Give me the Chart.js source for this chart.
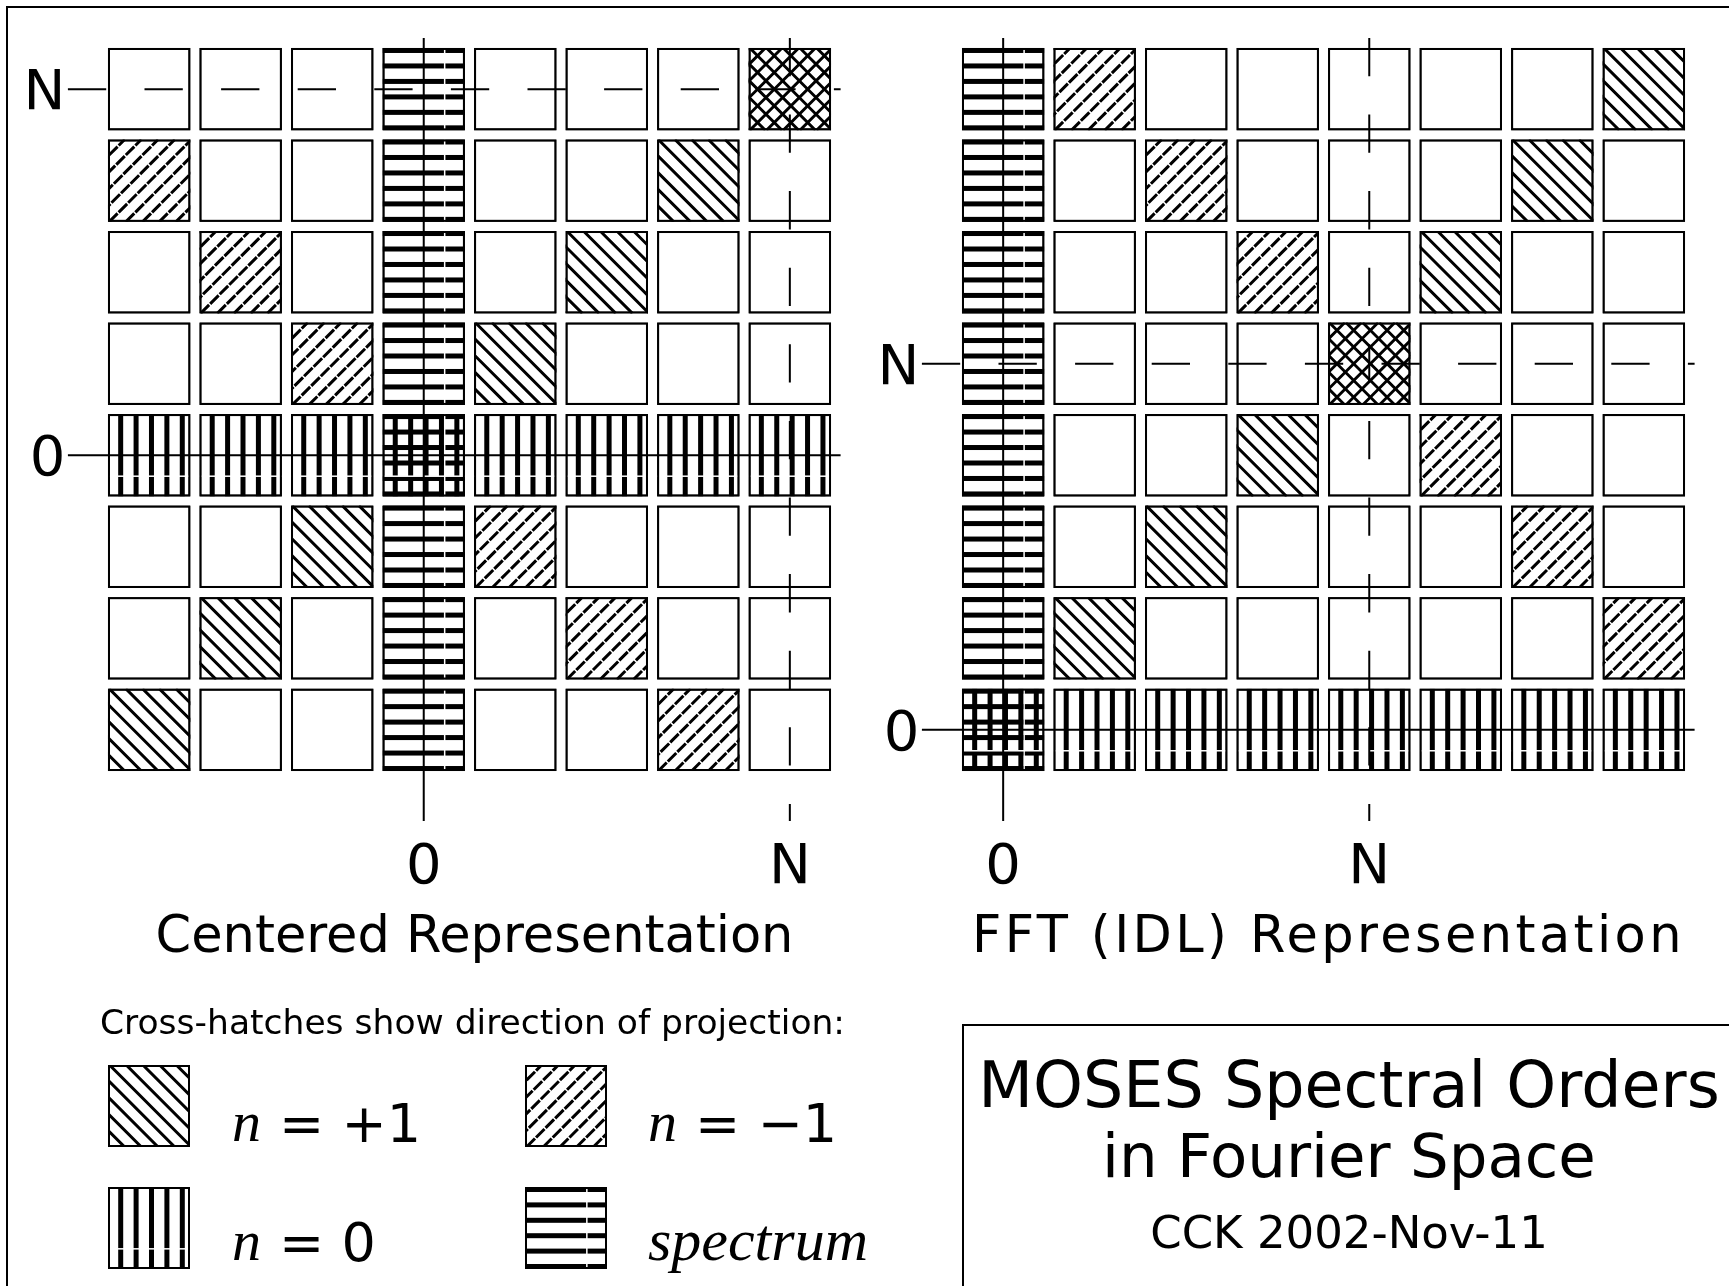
<!DOCTYPE html>
<html>
<head>
<meta charset="utf-8">
<script src="https://cdn.jsdelivr.net/npm/chart.js@4.4.1/dist/chart.umd.min.js"></script>
<style>
  body { margin: 0; background: #fff; overflow: hidden; }
  #wrap { position: relative; width: 1729px; height: 1286px; }
  canvas { position: absolute; left: 0; top: 0; }
</style>
</head>
<body>
<div id="wrap">
  <canvas id="centered" width="1729" height="1286"></canvas>
  <canvas id="fft" width="1729" height="1286"></canvas>
</div>
<script>
// cell codes: '' empty, '+' n=+1, '-' n=-1, '0' n=0, 'S' spectrum,
// 'G' spectrum and n=0, 'X' n=+1 and n=-1 together
const centeredCols = ["-3", "-2", "-1", "0", "1", "2", "3", "N"]
const centeredRows = ["N", "3", "2", "1", "0", "-1", "-2", "-3"] // top to bottom
const centeredCells = [
  ["", "", "", "S", "", "", "", "X"],
  ["-", "", "", "S", "", "", "+", ""],
  ["", "-", "", "S", "", "+", "", ""],
  ["", "", "-", "S", "+", "", "", ""],
  ["0", "0", "0", "G", "0", "0", "0", "0"],
  ["", "", "+", "S", "-", "", "", ""],
  ["", "+", "", "S", "", "-", "", ""],
  ["+", "", "", "S", "", "", "-", ""],
]

const fftCols = ["0", "1", "2", "3", "N", "5", "6", "7"]
const fftRows = ["7", "6", "5", "N", "3", "2", "1", "0"] // top to bottom
const fftCells = [
  ["S", "-", "", "", "", "", "", "+"],
  ["S", "", "-", "", "", "", "+", ""],
  ["S", "", "", "-", "", "+", "", ""],
  ["S", "", "", "", "X", "", "", ""],
  ["S", "", "", "+", "", "-", "", ""],
  ["S", "", "+", "", "", "", "-", ""],
  ["S", "+", "", "", "", "", "", "-"],
  ["G", "0", "0", "0", "0", "0", "0", "0"],
]

const legendCodes = ["+", "-", "0", "S"]
const legendValues = ["+1", "\u22121", "0", "spectrum"]
const titleLines = ["MOSES Spectral Orders", "in Fourier Space", "CCK 2002-Nov-11"]

const SANS = '"DejaVu Sans"'

function drawHatch(ctx, code, x, y, w, h) {
  ctx.save()
  ctx.beginPath()
  ctx.rect(x, y, w, h)
  ctx.clip()
  ctx.fillStyle = "#000"
  ctx.strokeStyle = "#000"
  if (code === "S" || code === "G") {
    const step = (h - 5) / 5
    for (let k = 0; k < 6; k++) ctx.fillRect(x, y + k * step, w, 5)
    ctx.fillStyle = "#fff"
    ctx.fillRect(x + w * 0.745, y, 1.5, h)
    ctx.fillStyle = "#000"
  }
  if (code === "0" || code === "G") {
    for (let k = 0; k < 5; k++) ctx.fillRect(x + 10.2 + k * 15.4, y, 5, h)
    ctx.fillStyle = "#fff"
    ctx.fillRect(x, y + h * 0.745, w, 1.5)
  }
  const sp = 16.7
  if (code === "+" || code === "X") {
    ctx.lineWidth = code === "X" ? 2.9 : 3
    ctx.beginPath()
    for (let c = -h; c < w + sp; c += sp) {
      ctx.moveTo(x + c, y)
      ctx.lineTo(x + c + h, y + h)
    }
    ctx.stroke()
  }
  if (code === "-" || code === "X") {
    ctx.lineWidth = code === "X" ? 2.9 : 3
    if (code === "-") ctx.setLineDash([12, 1.5])
    ctx.beginPath()
    for (let c = -h; c < w + sp; c += sp) {
      ctx.moveTo(x + c, y + h)
      ctx.lineTo(x + c + h, y)
    }
    ctx.stroke()
  }
  ctx.restore()
  ctx.save()
  ctx.strokeStyle = "#000"
  ctx.lineWidth = 2
  ctx.strokeRect(x + 1, y + 1, w - 2, h - 2)
  ctx.restore()
}

const hatchPlugin = {
  id: "hatch",
  afterDatasetsDraw(chart) {
    const ctx = chart.ctx
    chart.data.datasets.forEach((ds, i) => {
      chart.getDatasetMeta(i).data.forEach((bar, j) => {
        const p = bar.getProps(["x", "y", "base", "width"], true)
        const top = Math.min(p.y, p.base)
        drawHatch(ctx, ds.codes[j], p.x - p.width / 2, top, p.width, Math.abs(p.base - p.y))
      })
    })
  },
}

function axesPlugin(cols, rows, title, titleSize, spacing) {
  return {
    id: "axes",
    afterDraw(chart) {
      const { ctx, chartArea: a, scales } = chart
      const up = rows.slice().reverse()
      const x0 = scales.x.getPixelForValue(cols.indexOf("0"))
      const xN = scales.x.getPixelForValue(cols.indexOf("N"))
      const y0 = scales.y.getPixelForValue(up.indexOf("0"))
      const yN = scales.y.getPixelForValue(up.indexOf("N"))
      const hx1 = a.left - 35.5
      const hx2 = a.right + 5
      const vy1 = a.top - 5.5
      const vy2 = a.bottom + 45.5
      ctx.save()
      ctx.strokeStyle = "#000"
      ctx.lineWidth = 2
      ctx.beginPath()
      ctx.moveTo(hx1, y0); ctx.lineTo(hx2, y0)
      ctx.moveTo(x0, vy1); ctx.lineTo(x0, vy2)
      ctx.stroke()
      ctx.setLineDash([38.3, 38.3])
      ctx.beginPath()
      ctx.moveTo(hx1, yN); ctx.lineTo(hx2, yN)
      ctx.stroke()
      ctx.beginPath()
      ctx.moveTo(xN, vy1); ctx.lineTo(xN, vy2)
      ctx.stroke()
      ctx.setLineDash([])

      ctx.fillStyle = "#000"
      ctx.font = "56px " + SANS
      ctx.textAlign = "right"
      ctx.fillText("N", a.left - 38, yN + 20)
      ctx.fillText("0", a.left - 38, y0 + 20)
      ctx.textAlign = "center"
      ctx.fillText("0", x0, 883)
      ctx.fillText("N", xN, 883)

      ctx.font = titleSize + "px " + SANS
      if (spacing) ctx.letterSpacing = spacing
      ctx.fillText(title, (a.left + a.right) / 2 + 5, 952)
      ctx.restore()
    },
  }
}

const legendPlugin = {
  id: "legendBox",
  afterDraw(chart) {
    const ctx = chart.ctx
    ctx.save()
    ctx.strokeStyle = "#000"
    ctx.lineWidth = 2
    ctx.beginPath()
    ctx.moveTo(7, 1290); ctx.lineTo(7, 7); ctx.lineTo(1735, 7)
    ctx.stroke()

    ctx.fillStyle = "#000"
    ctx.font = "34.5px " + SANS
    ctx.textAlign = "left"
    ctx.fillText("Cross-hatches show direction of projection:", 100, 1034)

    const bx = [108, 525, 108, 525]
    const by = [1065, 1065, 1187, 1187]
    const tx = [232, 648, 232, 648]
    const ty = [1141, 1141, 1260, 1260]
    legendCodes.forEach((code, i) => {
      ctx.fillStyle = "#fff"
      ctx.fillRect(bx[i], by[i], 82, 82)
      drawHatch(ctx, code, bx[i], by[i], 82, 82)
      ctx.fillStyle = "#000"
      if (legendValues[i] === "spectrum") {
        ctx.font = 'italic 60px "Liberation Serif"'
        ctx.fillText(legendValues[i], tx[i], ty[i])
      } else {
        ctx.font = 'italic 58px "Liberation Serif"'
        ctx.fillText("n", tx[i], ty[i])
        ctx.font = "54px " + SANS
        ctx.fillText("= " + legendValues[i], tx[i] + 47, ty[i] + 1)
      }
    })
    ctx.restore()
  },
}

const titlePlugin = {
  id: "titleBox",
  afterDraw(chart) {
    const ctx = chart.ctx
    ctx.save()
    ctx.strokeStyle = "#000"
    ctx.lineWidth = 2
    ctx.beginPath()
    ctx.moveTo(963, 1290); ctx.lineTo(963, 1025); ctx.lineTo(1735, 1025)
    ctx.stroke()
    ctx.fillStyle = "#000"
    ctx.textAlign = "center"
    ctx.font = "63.5px " + SANS
    ctx.fillText(titleLines[0], 1349, 1107)
    ctx.font = "61px " + SANS
    ctx.fillText(titleLines[1], 1349, 1177)
    ctx.font = "45px " + SANS
    ctx.fillText(titleLines[2], 1349, 1248)
    ctx.restore()
  },
}

function gridDatasets(rows, cells) {
  return rows.map((r, i) => {
    const yi = rows.length - 1 - i
    return {
      label: r,
      data: cells[i].map(() => [yi - 0.45, yi + 0.45]),
      codes: cells[i],
      backgroundColor: "#fff",
      borderColor: "#000",
      borderWidth: 2,
      borderSkipped: false,
      grouped: false,
      barPercentage: 0.9,
      categoryPercentage: 1,
    }
  })
}

function makeChart(id, cols, rows, cells, padding, plugins) {
  return new Chart(document.getElementById(id), {
    type: "bar",
    data: { labels: cols, datasets: gridDatasets(rows, cells) },
    options: {
      responsive: false,
      animation: false,
      events: [],
      layout: { padding: padding },
      plugins: { legend: { display: false }, tooltip: { enabled: false } },
      scales: {
        x: { type: "category", offset: true, display: false },
        y: { type: "linear", min: -0.5, max: 7.5, display: false },
      },
    },
    plugins: plugins,
  })
}

makeChart("centered", centeredCols, centeredRows, centeredCells,
  { left: 103.4, right: 893.4, top: 43.4, bottom: 510.4 },
  [hatchPlugin, axesPlugin(centeredCols, centeredRows, "Centered Representation", 51), legendPlugin])

makeChart("fft", fftCols, fftRows, fftCells,
  { left: 957.4, right: 39.4, top: 43.4, bottom: 510.4 },
  [hatchPlugin, axesPlugin(fftCols, fftRows, "FFT (IDL) Representation", 51, "3.4px"), titlePlugin])
</script>
</body>
</html>
